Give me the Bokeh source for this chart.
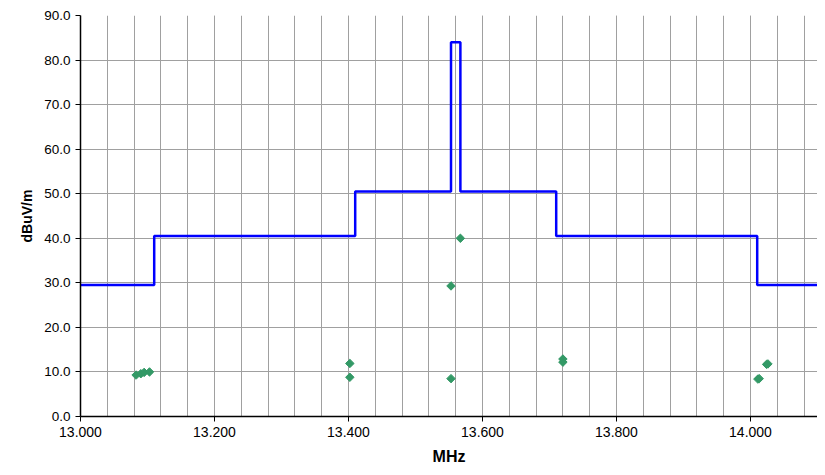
import math
from bokeh.plotting import figure
from bokeh.models import FixedTicker, NumeralTickFormatter, Range1d
from bokeh.embed import file_html
from bokeh.resources import INLINE

# Limit line (step edges, MHz) and levels (dBuV/m)
limit_freq = [13.000, 13.110, 13.410, 13.553, 13.567, 13.710, 14.010, 14.100]
limit_level = [29.5, 40.5, 50.5, 84.0, 50.5, 40.5, 29.5, 29.5]

# Measured emissions
meas_freq = [13.083, 13.090, 13.095, 13.103, 13.402, 13.402, 13.553, 13.553,
             13.567, 13.720, 13.720, 14.011, 14.013, 14.024, 14.026]
meas_level = [9.3, 9.6, 9.9, 10.0, 11.9, 8.8, 29.3, 8.5,
              40.0, 12.9, 12.2, 8.4, 8.5, 11.7, 11.8]

x_major = [13.0, 13.2, 13.4, 13.6, 13.8, 14.0]
x_minor = [round(13.0 + 0.04 * i, 2) for i in range(28)]
y_major = [0, 10, 20, 30, 40, 50, 60, 70, 80, 90]

FONT = "Liberation Sans"

p = figure(width=817, height=467, output_backend="svg", toolbar_location=None,
           x_range=Range1d(13.0, 14.1), y_range=Range1d(0, 90),
           min_border_left=80, min_border_right=0, min_border_top=15, min_border_bottom=51)
p.outline_line_color = None
p.background_fill_color = "white"
p.border_fill_color = "white"

p.xaxis.ticker = FixedTicker(ticks=x_major, minor_ticks=x_minor)
p.yaxis.ticker = FixedTicker(ticks=y_major)
p.xaxis.formatter = NumeralTickFormatter(format="0.000")
p.yaxis.formatter = NumeralTickFormatter(format="0.0")

for ax in (p.xaxis, p.yaxis):
    ax.axis_line_color = "black"
    ax.axis_line_width = 1.5
    ax.major_tick_line_color = "black"
    ax.major_tick_in = 0
    ax.major_tick_out = 5
    ax.minor_tick_line_color = None
    ax.major_label_text_font = FONT
    ax.major_label_text_color = "black"
    ax.axis_label_text_font = FONT
    ax.axis_label_text_font_style = "bold"
    ax.axis_label_text_color = "black"

p.xaxis.major_label_text_font_size = "14px"
p.yaxis.major_label_text_font_size = "13.5px"
p.xaxis.major_label_standoff = 5
p.yaxis.major_label_standoff = 5
p.xaxis.axis_label = "MHz"
p.xaxis.axis_label_text_font_size = "16px"
p.xaxis.axis_label_standoff = 8
p.yaxis.axis_label = "dBuV/m"
p.yaxis.axis_label_text_font_size = "14px"
p.yaxis.axis_label_standoff = 6

p.xgrid.grid_line_color = "#a0a0a0"
p.xgrid.minor_grid_line_color = "#a0a0a0"
p.ygrid.grid_line_color = "#a0a0a0"

p.step(limit_freq, limit_level, mode="after", line_color="#0000ff", line_width=2.5)
p.scatter(meas_freq, meas_level, marker="square", size=6, angle=math.pi / 4,
          fill_color="#339966", line_color="#339966", line_width=1)

open("out.html", "w").write(file_html(p, INLINE))
